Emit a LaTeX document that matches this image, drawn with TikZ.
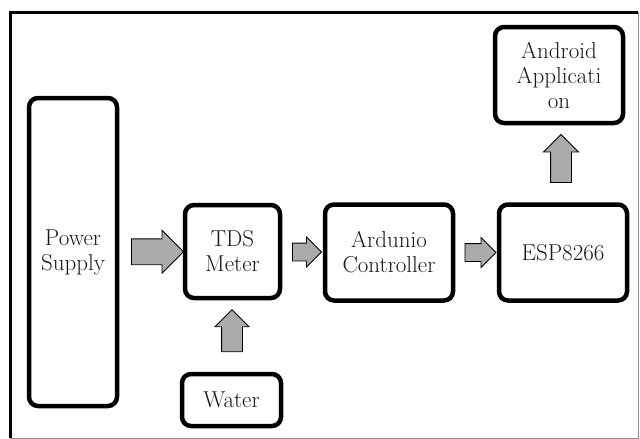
\documentclass[tikz,border=0pt]{standalone}
\usetikzlibrary{shapes.arrows,calc,shadows}

\begin{document}
\begin{tikzpicture}[
  x=1pt, y=-1pt,
  font=\rmfamily\fontsize{23}{25}\selectfont,
  block/.style={
    draw, line width=4.5pt, rounded corners=9pt, fill=white,
    align=center, inner sep=2pt, text=black!90,
    drop shadow={shadow xshift=1.5pt, shadow yshift=-1.5pt, opacity=.3}
  },
  wide/.style={block, minimum width=128pt, minimum height=96pt},
  flow/.style={
    shape=single arrow, draw, fill=black!33, line width=.8pt,
    single arrow head extend=7pt
  },
]
\useasboundingbox (0,0) rectangle (640,439);

% ---- frame --------------------------------------------------------------
\draw[line width=3pt] (10,438) -- (10,12) -- (638,12);
\draw[black!45, line width=.8pt] (638,12) -- (638,438) -- (10,438);

% ---- blocks -------------------------------------------------------------
\node[block, minimum width=88pt, minimum height=308pt] (power) at (73,252)
  {Power\\ Supply};
\node[block, minimum width=95pt, minimum height=93pt] (tds) at (232.5,251.5)
  {TDS\\ Meter};
\node[block, minimum width=99pt, minimum height=52pt] (water) at (231.5,400)
  {Water};
\node[wide] (ardunio) at (389,252.5) {Ardunio\\ Controller};
\node[wide] (esp)     at (563,252.5) {ESP8266};
\node[wide] (android) at (559,75)    {Android\\ Applicati\\ on};

% ---- block arrows -------------------------------------------------------
\node[flow, inner sep=12.5pt, minimum height=52pt,
      single arrow head extend=8.5pt] (a1)
  at ($(power.east)!0.5!(tds.west)$) {};
\node[flow, inner sep=8.5pt, minimum height=29pt, single arrow head extend=6pt] (a2)
  at ($(tds.east)!0.5!(ardunio.west)$) {};
\node[flow, inner sep=8.5pt, minimum height=31pt, single arrow head extend=6pt] (a3)
  at ($(ardunio.east)!0.5!(esp.west)$) {};
\node[flow, inner sep=10pt, minimum height=42pt, single arrow head extend=6.5pt,
      rotate=90] (a4)
  at ($(water.north)!0.5!(tds.south)$) {};
\node[flow, inner sep=10pt, minimum height=48pt, rotate=90] (a5)
  at ($(esp.north)!0.5!(android.south)$) {};

\end{tikzpicture}
\end{document}
